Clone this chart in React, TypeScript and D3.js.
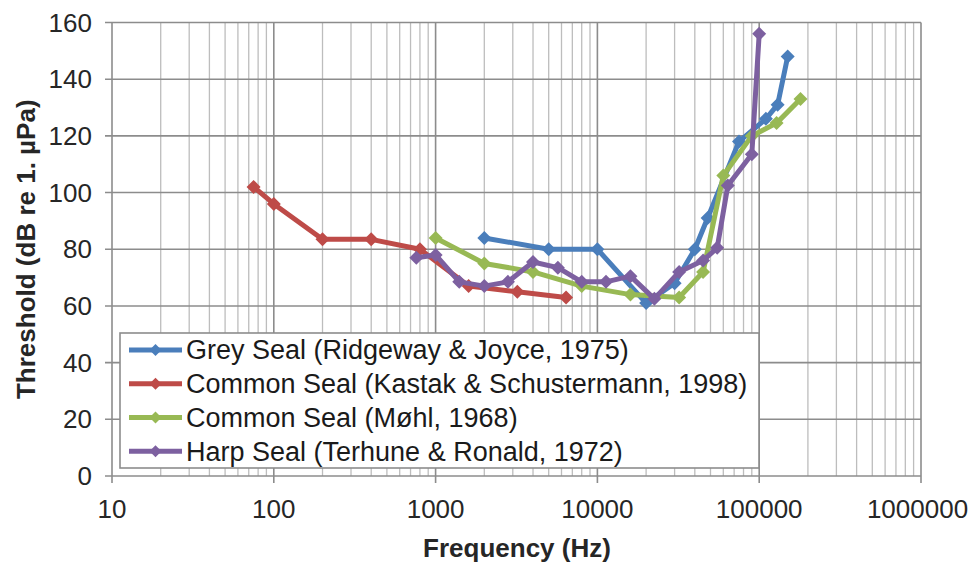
import React from "react";
import * as d3 from "d3";

const W = 971;
const H = 562;

const xTicks = [10, 100, 1000, 10000, 100000, 1000000];
const yTicks = [0, 20, 40, 60, 80, 100, 120, 140, 160];

const greyFreq = [2000, 5000, 10000, 20000, 30000, 40000, 48000, 75000, 110000, 130000, 150000];
const greyVal = [84, 80, 80, 61, 68, 80, 91, 118, 126, 131, 148];

const kastakFreq = [75, 100, 200, 400, 800, 1600, 3200, 6400];
const kastakVal = [102, 96, 83.5, 83.5, 80, 67, 65, 63];

const mohlFreq = [1000, 2000, 4000, 8000, 16000, 32000, 45000, 60000, 90000, 128000, 180000];
const mohlVal = [84, 75, 72, 67, 64, 63, 72, 106, 120, 124.5, 133];

const harpFreq = [760, 1000, 1400, 2000, 2800, 4000, 5700, 8000, 11300, 16000, 22500, 32000, 45000, 55000, 64000, 90000, 100000];
const harpVal = [77, 78, 68.5, 67, 68.5, 75.5, 73.5, 68.5, 68.5, 70.5, 62.5, 72, 76, 80.5, 102.5, 113.5, 156];

const seriesNames = [
  "Grey Seal (Ridgeway & Joyce, 1975)",
  "Common Seal (Kastak & Schustermann, 1998)",
  "Common Seal (Møhl, 1968)",
  "Harp Seal (Terhune & Ronald, 1972)",
];
const seriesColors = ["#4A7EBB", "#BE4B48", "#98B954", "#7D60A0"];

const FONT = "'Liberation Sans', Arial, sans-serif";

export default function App() {
  const margin = { left: 112, right: 921, top: 22.5, bottom: 476 };
  const x = d3.scaleLog().domain([10, 1000000]).range([margin.left, margin.right]);
  const y = d3.scaleLinear().domain([0, 160]).range([margin.bottom, margin.top]);

  const series = [
    { f: greyFreq, v: greyVal },
    { f: kastakFreq, v: kastakVal },
    { f: mohlFreq, v: mohlVal },
    { f: harpFreq, v: harpVal },
  ].map((s, i) => ({
    name: seriesNames[i],
    color: seriesColors[i],
    pts: s.f.map((f, j) => [f, s.v[j]] as [number, number]),
  }));

  const line = d3
    .line<[number, number]>()
    .x((d) => x(d[0]))
    .y((d) => y(d[1]));

  const minorTicks: number[] = [];
  for (let e = 1; e < 6; e++) {
    for (let m = 2; m <= 9; m++) minorTicks.push(m * Math.pow(10, e));
  }

  const diamond = (cx: number, cy: number, r: number) =>
    `M${cx},${cy - r}L${cx + r},${cy}L${cx},${cy + r}L${cx - r},${cy}Z`;

  const legend = { x0: 120, y0: 333, x1: 759, y1: 468 };
  const rowH = (legend.y1 - legend.y0) / 4;

  return (
    <svg
      width={W}
      height={H}
      style={{ position: "absolute", left: 0, top: 0, background: "#fff" }}
      fontFamily={FONT}
    >
      <rect x={0} y={0} width={W} height={H} fill="#fff" />
      {minorTicks.map((t) => (
        <line
          key={"mv" + t}
          x1={x(t)}
          x2={x(t)}
          y1={y(160)}
          y2={y(0)}
          stroke="#bdbdbd"
          strokeWidth={1.3}
        />
      ))}
      {xTicks.map((t) => (
        <line
          key={"v" + t}
          x1={x(t)}
          x2={x(t)}
          y1={y(160)}
          y2={y(0) + 7}
          stroke="#8c8c8c"
          strokeWidth={1.6}
        />
      ))}
      {yTicks.map((t) => (
        <line
          key={"h" + t}
          x1={x(10) - 7}
          x2={x(1000000)}
          y1={y(t)}
          y2={y(t)}
          stroke="#8c8c8c"
          strokeWidth={1.6}
        />
      ))}
      {yTicks.map((t) => (
        <text
          key={"yl" + t}
          x={92}
          y={y(t) + 9}
          textAnchor="end"
          fontSize={26}
          fill="#262626"
        >
          {t}
        </text>
      ))}
      {xTicks.map((t) => (
        <text
          key={"xl" + t}
          x={Math.min(x(t), 917.5)}
          y={518}
          textAnchor="middle"
          fontSize={26}
          fill="#262626"
        >
          {String(t)}
        </text>
      ))}
      <text
        x={517}
        y={557}
        textAnchor="middle"
        fontSize={26}
        fontWeight="bold"
        fill="#262626"
      >
        Frequency (Hz)
      </text>
      <text
        transform={`translate(35,${(y(0) + y(160)) / 2}) rotate(-90)`}
        textAnchor="middle"
        fontSize={26}
        fontWeight="bold"
        fill="#262626"
      >
        Threshold (dB re 1. µPa)
      </text>

      {series.map((s) => (
        <g key={s.name}>
          <path
            d={line(s.pts) || ""}
            fill="none"
            stroke={s.color}
            strokeWidth={5}
            strokeLinejoin="round"
          />
          {s.pts.map((p, j) => (
            <path key={j} d={diamond(x(p[0]), y(p[1]), 7)} fill={s.color} />
          ))}
        </g>
      ))}

      <rect
        x={legend.x0}
        y={legend.y0}
        width={legend.x1 - legend.x0}
        height={legend.y1 - legend.y0}
        fill="#fff"
        stroke="#8c8c8c"
        strokeWidth={1.6}
      />
      {series.map((s, i) => {
        const cy = legend.y0 + rowH * (i + 0.5);
        return (
          <g key={"lg" + i}>
            <line x1={129} x2={182} y1={cy} y2={cy} stroke={s.color} strokeWidth={5} />
            <path d={diamond(155.5, cy, 6)} fill={s.color} />
            <text x={186} y={cy + 9.5} fontSize={27} fill="#1a1a1a">
              {s.name}
            </text>
          </g>
        );
      })}
    </svg>
  );
}
